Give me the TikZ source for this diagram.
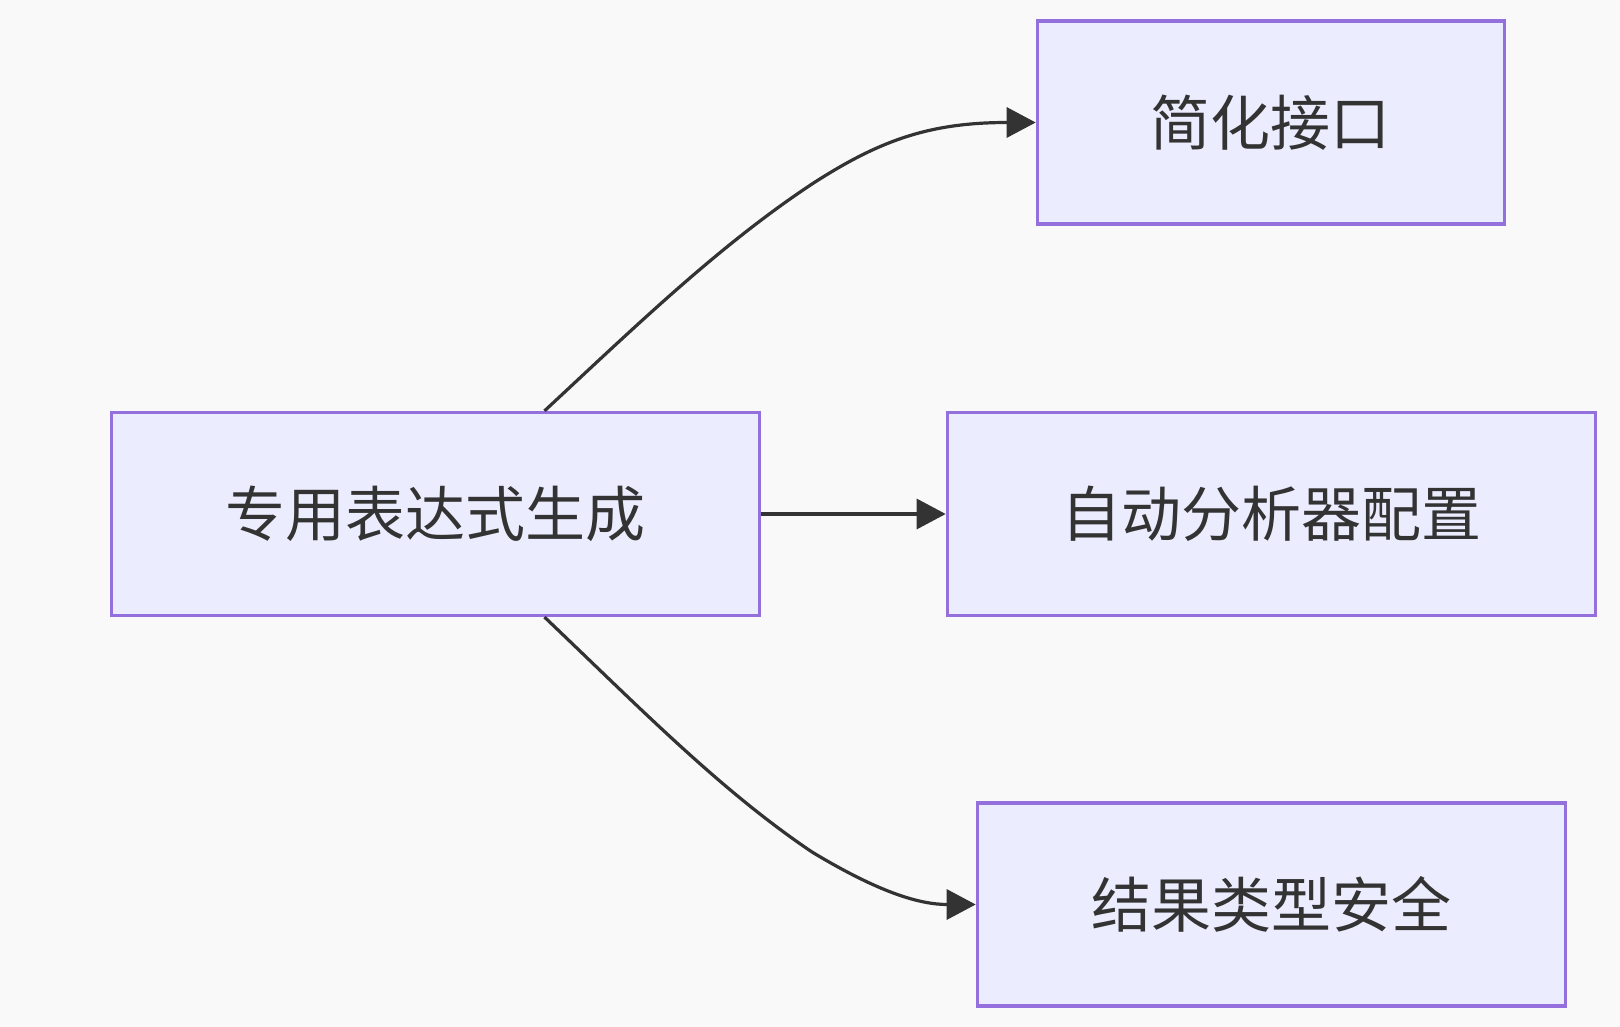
\documentclass[tikz,border=0pt]{standalone}
\usepackage{fontspec}
\newfontfamily\cjk{Noto Sans CJK SC}
\usetikzlibrary{arrows.meta,calc}
\definecolor{bg}{HTML}{F9F9F9}
\definecolor{nodefill}{HTML}{ECECFF}
\definecolor{nodeborder}{HTML}{9370DB}
\definecolor{ink}{HTML}{333333}
\tikzset{
  box/.style={draw=nodeborder, fill=nodefill, line width=3.2pt, inner sep=0pt,
    minimum height=203pt, text=ink, font=\cjk\fontsize{60}{72}\selectfont},
  link/.style={draw=ink, line width=3.2pt, -{Triangle[length=29pt,width=30pt]}}
}
\begin{document}
\begin{tikzpicture}[x=1pt,y=-1pt]
\fill[bg] (0,0) rectangle (1620,1027);
\useasboundingbox (0,0) rectangle (1620,1027);
\node[box, minimum width=648pt] (main) at (435.5,514) {专用表达式生成};
\node[box, minimum width=467pt] (simple) at (1270.8,122.5) {简化接口};
\node[box, minimum width=648pt] (auto) at (1271.3,514) {自动分析器配置};
\node[box, minimum width=588pt] (safe) at (1271.3,904.5) {结果类型安全};
\coordinate (b1) at (812,184);
\coordinate (b2) at (812,852);
\draw[link] ($(main.north)+(109,0)$) .. controls (640,322) and (720,245) .. (b1)
  .. controls (880,140) and (930,122.5) .. (simple.west);
\draw[link] ($(main.south)+(109,0)$) .. controls (640,708) and (720,790) .. (b2)
  .. controls (880,893) and (920,904.5) .. (safe.west);
\draw[link] (main.east) -- (auto.west);
\end{tikzpicture}
\end{document}
